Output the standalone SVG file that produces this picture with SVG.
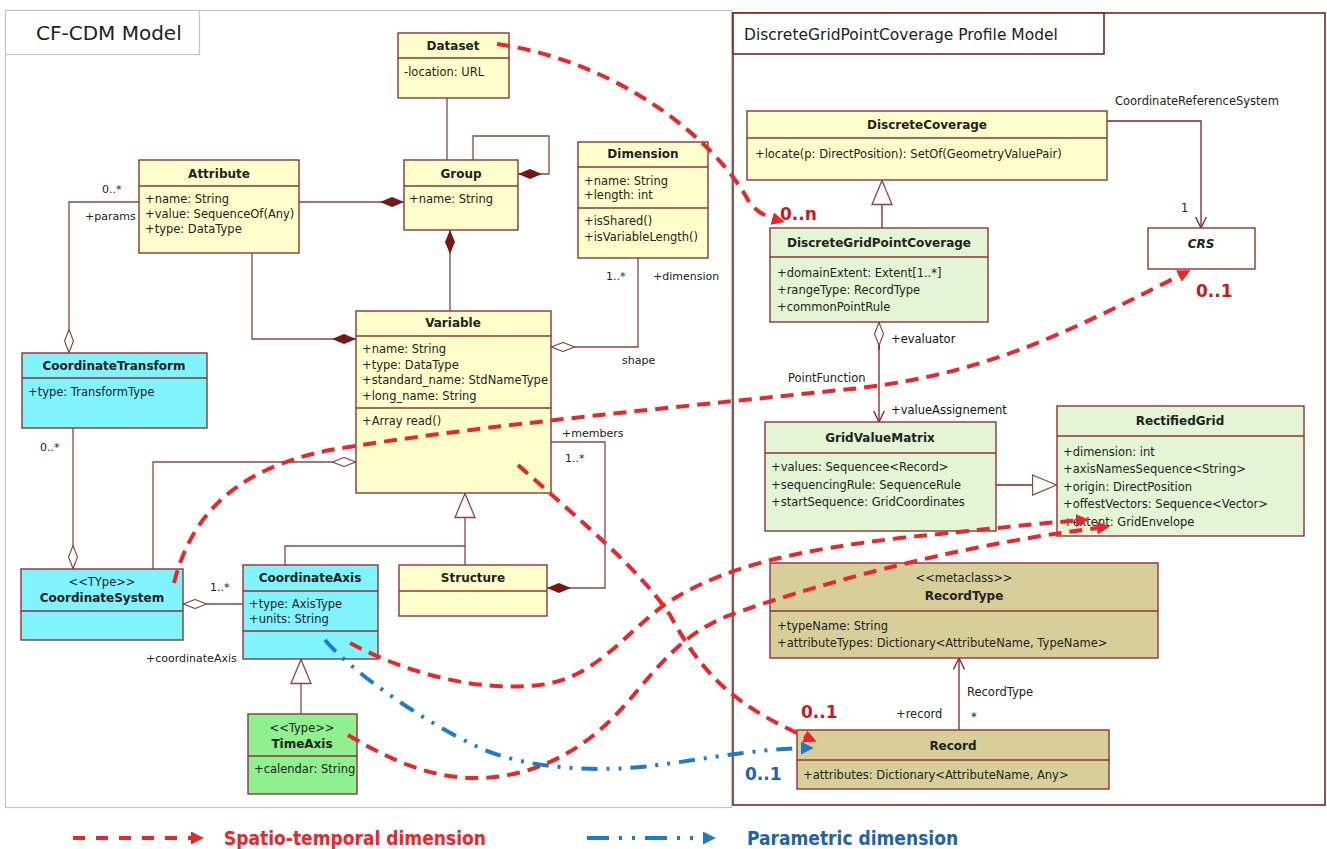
<svg xmlns="http://www.w3.org/2000/svg" width="1327" height="849" viewBox="0 0 1327 849">
<style>
text{font-family:'DejaVu Sans','Liberation Sans',sans-serif;fill:#222}
.t{font-size:11.5px}
.h{font-size:12px;font-weight:bold;text-anchor:middle}
.s{font-size:11.5px;text-anchor:middle}
.l{font-size:11px}
.box{stroke:#8b3535;stroke-width:1.4}
.sep{stroke:#8b3535;stroke-width:1.4}
.y{fill:#ffffcc}.c{fill:#7ff4ff}.g{fill:#e3f5d4}.tg{fill:#8ef08e}.k{fill:#d7ce9a}
.cn path{fill:none;stroke:#8a4545;stroke-width:1.3}
.rd{fill:none;stroke:#e8262b;stroke-width:4;stroke-dasharray:13 8}
.bl{fill:none;stroke:#1f7bc9;stroke-width:4;stroke-dasharray:16 9 3 9 3 9}
.rl{font-size:17px;font-weight:bold;fill:#c8191f}
.bll{font-size:17px;font-weight:bold;fill:#1f63a8}
.lg{font-family:'DejaVu Sans Condensed','DejaVu Sans',sans-serif;font-size:19px;font-weight:bold}
</style>
<defs>
<marker id="fd" viewBox="0 0 24 10" refX="24" refY="5" markerWidth="24" markerHeight="10" markerUnits="userSpaceOnUse" orient="auto"><path d="M0,5 L12,0 L24,5 L12,10 Z" fill="#7a1515"/></marker>
<marker id="hd" viewBox="0 0 24 10" refX="24" refY="5" markerWidth="24" markerHeight="10" markerUnits="userSpaceOnUse" orient="auto"><path d="M0.5,5 L12,0.5 L23.5,5 L12,9.5 Z" fill="#fff" stroke="#8a4545" stroke-width="1.2"/></marker>
<marker id="ht" viewBox="0 0 26 22" refX="25.5" refY="11" markerWidth="26" markerHeight="22" markerUnits="userSpaceOnUse" orient="auto"><path d="M1,1 L25,11 L1,21 Z" fill="#fff" stroke="#8a4545" stroke-width="1.3"/></marker>
<marker id="oa" viewBox="0 0 12 12" refX="11.5" refY="6" markerWidth="12" markerHeight="12" markerUnits="userSpaceOnUse" orient="auto"><path d="M0,0.5 L11.5,6 L0,11.5" fill="none" stroke="#7a2424" stroke-width="1.3"/></marker>
<marker id="ra" viewBox="0 0 10 10" refX="7" refY="5" markerWidth="13" markerHeight="13" markerUnits="userSpaceOnUse" orient="auto"><path d="M0,0 L10,5 L0,10 Z" fill="#e8262b"/></marker>
<marker id="ba" viewBox="0 0 10 10" refX="7" refY="5" markerWidth="13" markerHeight="13" markerUnits="userSpaceOnUse" orient="auto"><path d="M0,0 L10,5 L0,10 Z" fill="#1f7bc9"/></marker>
</defs>
<rect width="1327" height="849" fill="#fff"/>

<g id="frames">
<rect x="5.5" y="10.5" width="726" height="797" fill="none" stroke="#c4c4c4" stroke-width="1.2"/>
<rect x="5.5" y="10.5" width="194" height="44" fill="#fff" stroke="#c4c4c4" stroke-width="1.2"/>
<text x="36" y="40" style="font-size:20px">CF-CDM Model</text>
<rect x="733" y="13" width="592" height="792" fill="#fff" stroke="#7a2424" stroke-width="1.6"/>
<rect x="733" y="13" width="371" height="41" fill="#fff" stroke="#7a2424" stroke-width="1.6"/>
<text x="744" y="40" style="font-size:15.5px">DiscreteGridPointCoverage Profile Model</text>
</g>

<g id="connectors" class="cn">
<path d="M447,98 V160"/>
<path d="M299,202 H404" marker-end="url(#fd)"/>
<path d="M139,202 H69 V353" marker-end="url(#hd)"/>
<path d="M473,160 V136 H549 V174 H518" marker-end="url(#fd)"/>
<path d="M450,311 V230" marker-end="url(#fd)"/>
<path d="M252,253 V339 H356" marker-end="url(#fd)"/>
<path d="M638,258 V347 H551" marker-end="url(#hd)"/>
<path d="M73,428 V569" marker-end="url(#hd)"/>
<path d="M153,569 V462 H356" marker-end="url(#hd)"/>
<path d="M243,604 H183" marker-end="url(#hd)"/>
<path d="M285,565 V546 H465"/>
<path d="M465,565 V493" marker-end="url(#ht)"/>
<path d="M551,442 H605 V588 H547" marker-end="url(#fd)"/>
<path d="M301,714 V659" marker-end="url(#ht)"/>
<path d="M1107,121 H1201 V228" marker-end="url(#oa)" style="stroke:#7a2424"/>
<path d="M882,228 V180" marker-end="url(#ht)" style="stroke:#7a2424"/>
<path d="M879,322 V422" marker-end="url(#oa)" style="stroke:#7a2424"/>
<path d="M879,350 V322" marker-end="url(#hd)" style="stroke:#7a2424"/>
<path d="M996,485 H1057" marker-end="url(#ht)" style="stroke:#7a2424"/>
<path d="M959,730 V658" marker-end="url(#oa)" style="stroke:#7a2424"/>
</g>

<g id="connector-labels" class="l">
<text x="102" y="193">0..*</text>
<text x="85" y="220">+params</text>
<text x="40" y="451">0..*</text>
<text x="606" y="280">1..*</text>
<text x="653" y="280">+dimension</text>
<text x="622" y="364">shape</text>
<text x="562" y="437">+members</text>
<text x="565" y="462">1..*</text>
<text x="210" y="591">1..*</text>
<text x="146" y="662">+coordinateAxis</text>
<text x="1115" y="105" style="font-size:11.5px">CoordinateReferenceSystem</text>
<text x="1181" y="212" style="font-size:11.5px">1</text>
<text x="891" y="343" style="font-size:11.5px;fill:#111">+evaluator</text>
<text x="788" y="382" style="font-size:11.5px">PointFunction</text>
<text x="891" y="414" style="font-size:11.5px;fill:#111">+valueAssignement</text>
<text x="967" y="696" style="font-size:11.5px">RecordType</text>
<text x="896" y="718" style="font-size:11.5px">+record</text>
<text x="971" y="721" style="font-size:11.5px">*</text>
</g>

<g id="Dataset">
<rect class="box y" x="398" y="33" width="111" height="65"/>
<line class="sep" x1="398" y1="58" x2="509" y2="58"/>
<text class="h" x="453" y="50">Dataset</text>
<text class="t" x="404" y="76">-location: URL</text>
</g>
<g id="Group">
<rect class="box y" x="404" y="160" width="114" height="70"/>
<line class="sep" x1="404" y1="186" x2="518" y2="186"/>
<text class="h" x="461" y="178">Group</text>
<text class="t" x="409" y="203">+name: String</text>
</g>
<g id="Attribute">
<rect class="box y" x="139" y="160" width="160" height="93"/>
<line class="sep" x1="139" y1="186" x2="299" y2="186"/>
<text class="h" x="219" y="178">Attribute</text>
<text class="t" x="145" y="203">+name: String</text>
<text class="t" x="145" y="218">+value: SequenceOf(Any)</text>
<text class="t" x="145" y="233">+type: DataType</text>
</g>
<g id="Dimension">
<rect class="box y" x="578" y="142" width="130" height="116"/>
<line class="sep" x1="578" y1="167" x2="708" y2="167"/>
<line class="sep" x1="578" y1="208" x2="708" y2="208"/>
<text class="h" x="643" y="158">Dimension</text>
<text class="t" x="584" y="185">+name: String</text>
<text class="t" x="584" y="199">+length: int</text>
<text class="t" x="584" y="225">+isShared()</text>
<text class="t" x="584" y="241">+isVariableLength()</text>
</g>
<g id="Variable">
<rect class="box y" x="356" y="311" width="195" height="182"/>
<line class="sep" x1="356" y1="336" x2="551" y2="336"/>
<line class="sep" x1="356" y1="408" x2="551" y2="408"/>
<text class="h" x="453" y="327">Variable</text>
<text class="t" x="362" y="353">+name: String</text>
<text class="t" x="362" y="369">+type: DataType</text>
<text class="t" x="362" y="384">+standard_name: StdNameType</text>
<text class="t" x="362" y="400">+long_name: String</text>
<text class="t" x="362" y="425">+Array read()</text>
</g>
<g id="CoordinateTransform">
<rect class="box c" x="22" y="353" width="185" height="75"/>
<line class="sep" x1="22" y1="378" x2="207" y2="378"/>
<text class="h" x="114" y="370">CoordinateTransform</text>
<text class="t" x="28" y="396">+type: TransformType</text>
</g>
<g id="CoordinateSystem">
<rect class="box c" x="21" y="569" width="162" height="71"/>
<line class="sep" x1="21" y1="611" x2="183" y2="611"/>
<text class="s" x="102" y="586">&lt;&lt;TYpe&gt;&gt;</text>
<text class="h" x="102" y="602">CoordinateSystem</text>
</g>
<g id="CoordinateAxis">
<rect class="box c" x="243" y="565" width="135" height="94"/>
<line class="sep" x1="243" y1="591" x2="378" y2="591"/>
<line class="sep" x1="243" y1="631" x2="378" y2="631"/>
<text class="h" x="310" y="582">CoordinateAxis</text>
<text class="t" x="249" y="608">+type: AxisType</text>
<text class="t" x="249" y="623">+units: String</text>
</g>
<g id="Structure">
<rect class="box y" x="399" y="565" width="148" height="51"/>
<line class="sep" x1="399" y1="591" x2="547" y2="591"/>
<text class="h" x="473" y="582">Structure</text>
</g>
<g id="TimeAxis">
<rect class="box tg" x="248" y="714" width="109" height="80"/>
<line class="sep" x1="248" y1="756" x2="357" y2="756"/>
<text class="s" x="302" y="732">&lt;&lt;Type&gt;&gt;</text>
<text class="h" x="302" y="748">TimeAxis</text>
<text class="t" x="254" y="773">+calendar: String</text>
</g>

<g id="DiscreteCoverage">
<rect class="box y" x="747" y="111" width="360" height="69"/>
<line class="sep" x1="747" y1="138" x2="1107" y2="138"/>
<text class="h" x="927" y="129">DiscreteCoverage</text>
<text class="t" x="755" y="158">+locate(p: DirectPosition): SetOf(GeometryValuePair)</text>
</g>
<g id="DiscreteGridPointCoverage">
<rect class="box g" x="770" y="228" width="218" height="94"/>
<line class="sep" x1="770" y1="257" x2="988" y2="257"/>
<text class="h" x="879" y="247">DiscreteGridPointCoverage</text>
<text class="t" x="777" y="277">+domainExtent: Extent[1..*]</text>
<text class="t" x="777" y="294">+rangeType: RecordType</text>
<text class="t" x="777" y="311">+commonPointRule</text>
</g>
<g id="CRS">
<rect class="box" fill="#fff" x="1148" y="228" width="107" height="41"/>
<text class="h" x="1201" y="248" style="font-style:italic">CRS</text>
</g>
<g id="GridValueMatrix">
<rect class="box g" x="765" y="422" width="231" height="109"/>
<line class="sep" x1="765" y1="453" x2="996" y2="453"/>
<text class="h" x="880" y="442">GridValueMatrix</text>
<text class="t" x="771" y="471">+values: Sequencee&lt;Record&gt;</text>
<text class="t" x="771" y="489">+sequencingRule: SequenceRule</text>
<text class="t" x="771" y="506">+startSequence: GridCoordinates</text>
</g>
<g id="RectifiedGrid">
<rect class="box g" x="1057" y="406" width="247" height="130"/>
<line class="sep" x1="1057" y1="436" x2="1304" y2="436"/>
<text class="h" x="1180" y="425">RectifiedGrid</text>
<text class="t" x="1063" y="456">+dimension: int</text>
<text class="t" x="1063" y="473">+axisNamesSequence&lt;String&gt;</text>
<text class="t" x="1063" y="491">+origin: DirectPosition</text>
<text class="t" x="1063" y="508">+offestVectors: Sequence&lt;Vector&gt;</text>
<text class="t" x="1063" y="526">+extent: GridEnvelope</text>
</g>
<g id="RecordType">
<rect class="box k" x="770" y="563" width="388" height="95"/>
<line class="sep" x1="770" y1="611" x2="1158" y2="611"/>
<text class="s" x="964" y="582">&lt;&lt;metaclass&gt;&gt;</text>
<text class="h" x="964" y="600">RecordType</text>
<text class="t" x="777" y="630">+typeName: String</text>
<text class="t" x="777" y="647">+attributeTypes: Dictionary&lt;AttributeName, TypeName&gt;</text>
</g>
<g id="Record">
<rect class="box k" x="797" y="730" width="312" height="59"/>
<line class="sep" x1="797" y1="760" x2="1109" y2="760"/>
<text class="h" x="953" y="750">Record</text>
<text class="t" x="803" y="779">+attributes: Dictionary&lt;AttributeName, Any&gt;</text>
</g>

<g id="dimension-links">
<path class="rd" d="M497,44 C620,62 715,140 748,200 C756,212 766,217 781,221" marker-end="url(#ra)"/>
<path class="rd" d="M174,583 C190,520 230,470 330,450 C480,425 700,405 860,388 C1000,372 1090,320 1187,272" marker-end="url(#ra)"/>
<path class="rd" d="M518,465 C580,520 640,570 670,615 C700,670 730,705 813,740" marker-end="url(#ra)"/>
<path class="rd" d="M350,643 C410,675 480,692 540,685 C600,678 630,625 675,598 C730,565 800,550 900,538 C980,530 1040,523 1085,520" marker-end="url(#ra)"/>
<path class="rd" d="M348,735 C390,760 430,778 475,778 C540,778 590,745 625,705 C660,665 680,635 730,615 C800,590 950,545 1106,527" marker-end="url(#ra)"/>
<path class="bl" d="M325,640 C350,670 420,720 480,748 C530,770 600,772 650,766 C700,760 760,748 810,748" marker-end="url(#ba)"/>
<text class="rl" x="780" y="220">0..n</text>
<text class="rl" x="1196" y="297">0..1</text>
<text class="rl" x="801" y="718">0..1</text>
<text class="bll" x="745" y="780">0..1</text>
</g>

<g id="legend">
<path class="rd" d="M73,838 H200" style="stroke-dasharray:12 11" marker-end="url(#ra)"/>
<text class="lg" x="224" y="845" style="fill:#e8262b">Spatio-temporal dimension</text>
<path class="bl" d="M587,838 H712" style="stroke-dasharray:22 10 3 10 3 10" marker-end="url(#ba)"/>
<text class="lg" x="747" y="845" style="fill:#1f63a8">Parametric dimension</text>
</g>
</svg>
